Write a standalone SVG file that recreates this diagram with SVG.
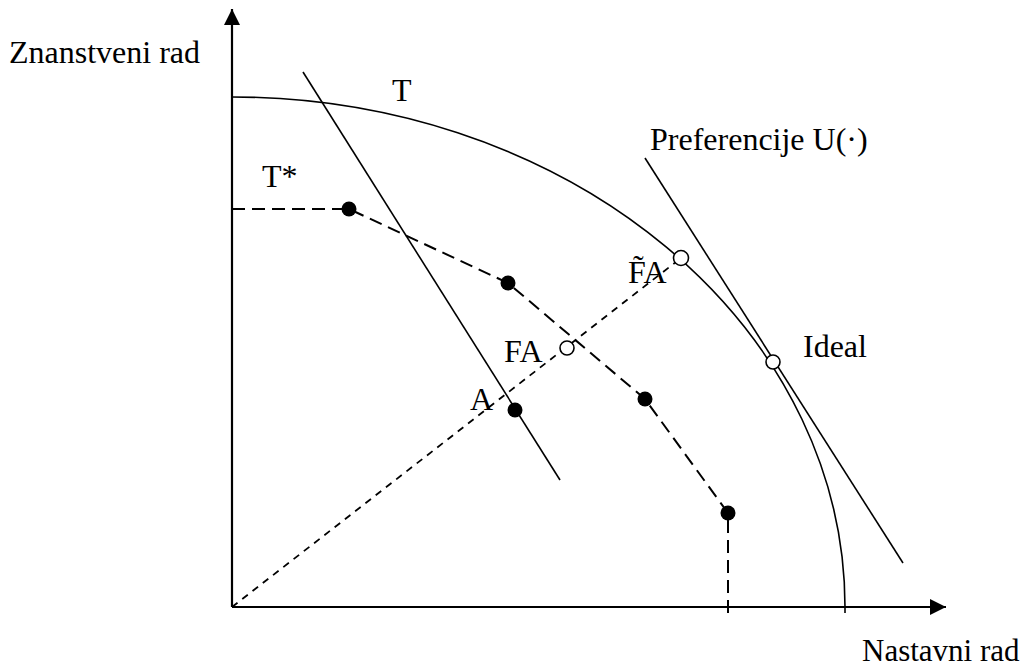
<svg xmlns="http://www.w3.org/2000/svg" width="1026" height="668" viewBox="0 0 1026 668">
<style>
text{font-family:'Liberation Serif','DejaVu Serif',serif;font-size:32px;fill:#000}
.ax{stroke:#000;stroke-width:2.2;fill:none}
.ln{stroke:#000;stroke-width:1.6;fill:none}
.dash{stroke:#000;stroke-width:2;fill:none;stroke-dasharray:13,7}
.dot{stroke:#000;stroke-width:1.8;fill:none;stroke-dasharray:7,6}
.full{fill:#000}
.open{fill:#fff;stroke:#000;stroke-width:1.6}
</style>
<defs>
<marker id="arr" viewBox="0 0 16 16" refX="16" refY="8" markerWidth="16" markerHeight="16" markerUnits="userSpaceOnUse" orient="auto">
<path d="M0,0 L16,8 L0,16 Z" fill="#000"/>
</marker>
</defs>
<g id="axes">
<line class="ax" x1="232" y1="607" x2="232" y2="9" marker-end="url(#arr)"/>
<line class="ax" x1="232" y1="607" x2="946" y2="607" marker-end="url(#arr)"/>
</g>
<g id="connectors">
<path id="curveT" class="ln" d="M232,97 A613,510 0 0 1 845,607 L845,613"/>
<line id="lineA" class="ln" x1="303" y1="72" x2="560" y2="480"/>
<line id="lineU" class="ln" x1="645" y1="158" x2="903" y2="563"/>
<line id="diag" class="dot" x1="232" y1="607" x2="681" y2="258"/>
<polyline id="frontier" class="dash" points="232,209 349,209 508,283 645,399 728,513 728,613"/>
</g>
<g id="points">
<circle class="full" cx="349" cy="209" r="7.5"/>
<circle class="full" cx="508" cy="283" r="7.5"/>
<circle class="full" cx="645" cy="399" r="7.5"/>
<circle class="full" cx="728" cy="513" r="7.5"/>
<circle class="full" cx="515" cy="410" r="7.5"/>
<circle class="open" cx="567" cy="348" r="7"/>
<circle class="open" cx="681" cy="258" r="7.5"/>
<circle class="open" cx="773" cy="362" r="7"/>
</g>
<g id="labels">
<text x="9" y="63">Znanstveni rad</text>
<text x="862" y="661" style="font-size:31px">Nastavni rad</text>
<text x="392" y="101">T</text>
<text x="262" y="187">T*</text>
<text x="650" y="150">Preferencije U(·)</text>
<text x="628" y="283">F&#771;A</text>
<text x="504" y="362">FA</text>
<text x="470" y="410">A</text>
<text x="803" y="357">Ideal</text>
</g>
</svg>
